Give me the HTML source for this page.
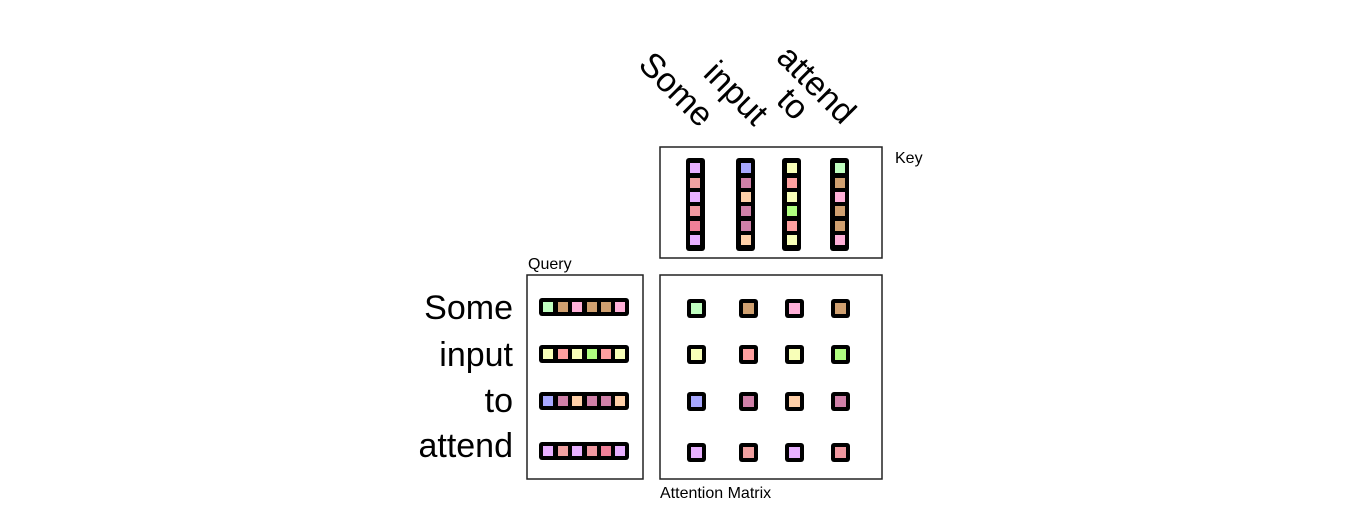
<!DOCTYPE html>
<html><head><style>html,body{margin:0;padding:0;background:#fff;}svg{display:block}</style></head>
<body>
<svg width="1364" height="526" xmlns="http://www.w3.org/2000/svg" font-family="Liberation Sans, Arial, sans-serif">
<rect x="0" y="0" width="1364" height="526" fill="#fff"/>
<g font-size="34" fill="#000">
<text transform="translate(637,66) rotate(45)">Some</text>
<text transform="translate(702,75) rotate(45)">input</text>
<text transform="translate(775,102) rotate(45)">to</text>
<text transform="translate(775,59) rotate(45)">attend</text>
</g>
<g fill="none" stroke="#222" stroke-width="1.5">
<rect x="660" y="147" width="222" height="111"/>
<rect x="527" y="275" width="116" height="204"/>
<rect x="660" y="275" width="222" height="204"/>
</g>
<g font-size="16" fill="#000">
<text x="895" y="163">Key</text>
<text x="528" y="269">Query</text>
<text x="660" y="498">Attention Matrix</text>
</g>
<g font-size="34" fill="#000" text-anchor="end">
<text x="513" y="319">Some</text>
<text x="513" y="366">input</text>
<text x="513" y="412">to</text>
<text x="513" y="457">attend</text>
</g>
<g>
<rect x="686" y="158" width="19" height="93" rx="3" fill="#000"/>
<rect x="736" y="158" width="19" height="93" rx="3" fill="#000"/>
<rect x="782" y="158" width="19" height="93" rx="3" fill="#000"/>
<rect x="830" y="158" width="19" height="93" rx="3" fill="#000"/>
</g>
<g>
<rect x="690" y="163" width="10" height="10" fill="#e8b0ff"/>
<rect x="690" y="178" width="10" height="10" fill="#f0a0a0"/>
<rect x="690" y="192" width="10" height="10" fill="#e8b0ff"/>
<rect x="690" y="206" width="10" height="10" fill="#f098a0"/>
<rect x="690" y="221" width="10" height="10" fill="#f08098"/>
<rect x="690" y="235" width="10" height="10" fill="#e8b0ff"/>

<rect x="741" y="163" width="10" height="10" fill="#a8a8ff"/>
<rect x="741" y="178" width="10" height="10" fill="#d080a8"/>
<rect x="741" y="192" width="10" height="10" fill="#ffd0a8"/>
<rect x="741" y="206" width="10" height="10" fill="#d080a8"/>
<rect x="741" y="221" width="10" height="10" fill="#d080a8"/>
<rect x="741" y="235" width="10" height="10" fill="#ffd0a8"/>

<rect x="787" y="163" width="10" height="10" fill="#f8ffb8"/>
<rect x="787" y="178" width="10" height="10" fill="#ffa0a0"/>
<rect x="787" y="192" width="10" height="10" fill="#f8ffb8"/>
<rect x="787" y="206" width="10" height="10" fill="#b0ff80"/>
<rect x="787" y="221" width="10" height="10" fill="#ffa0a0"/>
<rect x="787" y="235" width="10" height="10" fill="#f8ffb8"/>

<rect x="835" y="163" width="10" height="10" fill="#c0ffc0"/>
<rect x="835" y="178" width="10" height="10" fill="#d0a070"/>
<rect x="835" y="192" width="10" height="10" fill="#ffb0d8"/>
<rect x="835" y="206" width="10" height="10" fill="#d0a070"/>
<rect x="835" y="221" width="10" height="10" fill="#d0a070"/>
<rect x="835" y="235" width="10" height="10" fill="#ffb0d8"/>
</g>
<g fill="#000">
<rect x="539" y="298" width="90" height="18" rx="3"/>
<rect x="539" y="345" width="90" height="18" rx="3"/>
<rect x="539" y="392" width="90" height="18" rx="3"/>
<rect x="539" y="442" width="90" height="18" rx="3"/>
</g>
<g>
<rect x="543" y="302" width="10" height="10" fill="#c0ffc0"/>
<rect x="558" y="302" width="10" height="10" fill="#d0a070"/>
<rect x="572" y="302" width="10" height="10" fill="#ffb0d8"/>
<rect x="587" y="302" width="10" height="10" fill="#d0a070"/>
<rect x="601" y="302" width="10" height="10" fill="#d0a070"/>
<rect x="615" y="302" width="10" height="10" fill="#ffb0d8"/>

<rect x="543" y="349" width="10" height="10" fill="#f8ffb8"/>
<rect x="558" y="349" width="10" height="10" fill="#ffa0a0"/>
<rect x="572" y="349" width="10" height="10" fill="#f8ffb8"/>
<rect x="587" y="349" width="10" height="10" fill="#b0ff80"/>
<rect x="601" y="349" width="10" height="10" fill="#ffa0a0"/>
<rect x="615" y="349" width="10" height="10" fill="#f8ffb8"/>

<rect x="543" y="396" width="10" height="10" fill="#a8a8ff"/>
<rect x="558" y="396" width="10" height="10" fill="#d080a8"/>
<rect x="572" y="396" width="10" height="10" fill="#ffd0a8"/>
<rect x="587" y="396" width="10" height="10" fill="#d080a8"/>
<rect x="601" y="396" width="10" height="10" fill="#d080a8"/>
<rect x="615" y="396" width="10" height="10" fill="#ffd0a8"/>

<rect x="543" y="446" width="10" height="10" fill="#e8b0ff"/>
<rect x="558" y="446" width="10" height="10" fill="#f0a0a0"/>
<rect x="572" y="446" width="10" height="10" fill="#e8b0ff"/>
<rect x="587" y="446" width="10" height="10" fill="#f098a0"/>
<rect x="601" y="446" width="10" height="10" fill="#f08098"/>
<rect x="615" y="446" width="10" height="10" fill="#e8b0ff"/>
</g>
<g fill="#000">
<rect x="687" y="299" width="19" height="19" rx="3"/><rect x="739" y="299" width="19" height="19" rx="3"/><rect x="785" y="299" width="19" height="19" rx="3"/><rect x="831" y="299" width="19" height="19" rx="3"/>
<rect x="687" y="345" width="19" height="19" rx="3"/><rect x="739" y="345" width="19" height="19" rx="3"/><rect x="785" y="345" width="19" height="19" rx="3"/><rect x="831" y="345" width="19" height="19" rx="3"/>
<rect x="687" y="392" width="19" height="19" rx="3"/><rect x="739" y="392" width="19" height="19" rx="3"/><rect x="785" y="392" width="19" height="19" rx="3"/><rect x="831" y="392" width="19" height="19" rx="3"/>
<rect x="687" y="443" width="19" height="19" rx="3"/><rect x="739" y="443" width="19" height="19" rx="3"/><rect x="785" y="443" width="19" height="19" rx="3"/><rect x="831" y="443" width="19" height="19" rx="3"/>
</g>
<g>
<rect x="691" y="303" width="11" height="11" fill="#c0ffc0"/><rect x="743" y="303" width="11" height="11" fill="#d0a070"/><rect x="789" y="303" width="11" height="11" fill="#ffb0d8"/><rect x="835" y="303" width="11" height="11" fill="#d0a070"/>
<rect x="691" y="349" width="11" height="11" fill="#f8ffb8"/><rect x="743" y="349" width="11" height="11" fill="#ffa0a0"/><rect x="789" y="349" width="11" height="11" fill="#f8ffb8"/><rect x="835" y="349" width="11" height="11" fill="#b0ff80"/>
<rect x="691" y="396" width="11" height="11" fill="#a8a8ff"/><rect x="743" y="396" width="11" height="11" fill="#d080a8"/><rect x="789" y="396" width="11" height="11" fill="#ffd0a8"/><rect x="835" y="396" width="11" height="11" fill="#d080a8"/>
<rect x="691" y="447" width="11" height="11" fill="#e8b0ff"/><rect x="743" y="447" width="11" height="11" fill="#f0a0a0"/><rect x="789" y="447" width="11" height="11" fill="#e8b0ff"/><rect x="835" y="447" width="11" height="11" fill="#f098a0"/>
</g>
</svg>
</body></html>
